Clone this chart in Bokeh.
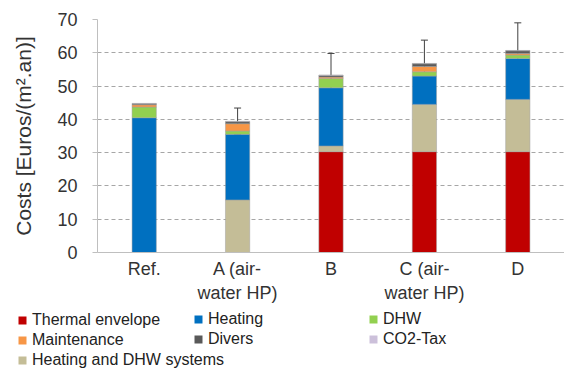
from bokeh.plotting import figure
from bokeh.layouts import column
from bokeh.models import ColumnDataSource, FactorRange, Legend, LegendItem, Whisker, TeeHead, SingleIntervalTicker, Range1d
from bokeh.embed import file_html
from bokeh.resources import INLINE

categories = ["Ref.", "A (air-\nwater HP)", "B", "C (air-\nwater HP)", "D"]
thermal_envelope = [0.0, 0.0, 30.3, 30.3, 30.3]
hdhw_systems = [0.0, 15.8, 1.7, 14.2, 15.7]
heating = [40.5, 19.7, 17.5, 8.5, 12.3]
dhw = [3.2, 1.0, 2.8, 1.3, 1.0]
maintenance = [0.7, 2.2, 0.4, 1.6, 0.5]
divers = [0.3, 0.6, 0.5, 0.8, 0.8]
co2_tax = [0.1, 0.1, 0.1, 0.1, 0.1]

err_categories = ["A (air-\nwater HP)", "B", "C (air-\nwater HP)", "D"]
err_half = [4.0, 6.5, 7.0, 8.3]

labels = ["Thermal envelope", "Heating and DHW systems", "Heating", "DHW", "Maintenance", "Divers", "CO2-Tax"]
colors = ["#C00000", "#C4BD97", "#0070C0", "#92D050", "#F79646", "#595959", "#CCC0DA"]

keys = ["te", "sys", "heat", "dhw", "maint", "div", "co2"]
data = dict(cats=categories, te=thermal_envelope, sys=hdhw_systems, heat=heating,
            dhw=dhw, maint=maintenance, div=divers, co2=co2_tax)
src = ColumnDataSource(data)

totals = [sum(v) for v in zip(thermal_envelope, hdhw_systems, heating, dhw, maintenance, divers, co2_tax)]
tot_map = dict(zip(categories, totals))
err_src = ColumnDataSource(dict(
    cats=err_categories,
    upper=[tot_map[c] + e for c, e in zip(err_categories, err_half)],
    lower=[tot_map[c] - e for c, e in zip(err_categories, err_half)],
))

p = figure(x_range=FactorRange(*categories, range_padding=0), y_range=Range1d(0, 70),
           width=564, height=305, output_backend="svg", toolbar_location=None,
           min_border_left=97, min_border_right=0, min_border_top=19, min_border_bottom=52)
p.frame_align = False

renderers = p.vbar_stack(keys, x="cats", width=0.26, source=src, color=colors,
                         line_color="#a0a0a0", line_width=0.5)

w = Whisker(base="cats", upper="upper", lower="lower", source=err_src,
            line_color="#404040", line_width=1,
            upper_head=TeeHead(size=7, line_color="#404040", line_width=1),
            lower_head=TeeHead(size=7, line_color="#404040", line_width=1))
p.add_layout(w)

p.outline_line_color = None
p.xgrid.grid_line_color = None
p.ygrid.grid_line_color = "#a6a6a6"
p.ygrid.grid_line_dash = "4 3"
p.ygrid.grid_line_width = 1

p.yaxis.ticker = SingleIntervalTicker(interval=10)
p.yaxis.axis_label = "Costs [Euros/(m².an)]"
p.yaxis.axis_label_text_font = "Liberation Sans"
p.yaxis.axis_label_text_font_style = "normal"
p.yaxis.axis_label_text_font_size = "21px"
p.yaxis.axis_label_text_color = "#333333"
p.yaxis.axis_label_standoff = 19
p.yaxis.major_label_text_font = "Liberation Sans"
p.yaxis.major_label_text_font_size = "18px"
p.yaxis.major_label_text_color = "#333333"
p.yaxis.axis_line_color = "#bfbfbf"
p.yaxis.major_tick_line_color = "#bfbfbf"
p.yaxis.major_tick_out = 5
p.yaxis.major_tick_in = 0
p.yaxis.minor_tick_line_color = None
p.yaxis.major_label_standoff = 15

p.xaxis.axis_line_color = "#bfbfbf"
p.xaxis.major_tick_line_color = None
p.xaxis.minor_tick_line_color = None
p.xaxis.major_label_text_font = "Liberation Sans"
p.xaxis.major_label_text_font_size = "18px"
p.xaxis.major_label_text_color = "#333333"
p.xaxis.major_label_standoff = 0
p.xaxis.major_label_orientation = "horizontal"

# Legend panel (separate figure below the chart); its renderers are hidden, only legend glyphs show
lp = figure(width=564, height=64, output_backend="svg", toolbar_location=None,
            x_range=FactorRange(*categories), y_range=Range1d(0, 70),
            x_axis_type=None, y_axis_type=None,
            min_border_left=0, min_border_right=0, min_border_top=0, min_border_bottom=0)
lp.frame_align = False
lp.xgrid.visible = False
lp.ygrid.visible = False
lp.outline_line_color = None
lp_renderers = lp.vbar_stack(keys, x="cats", width=0.25, source=src, color=colors, line_color=None)
for r in lp_renderers:
    r.visible = False
legend_renderers = dict(zip(labels, lp_renderers))

leg_style = dict(glyph_width=10, glyph_height=10, label_standoff=5,
                 label_height=16, spacing=2, padding=0, margin=0,
                 border_line_color=None, background_fill_alpha=0,
                 inactive_fill_alpha=0,
                 label_text_font="Liberation Sans", label_text_font_size="16px",
                 label_text_color="#222222", orientation="vertical")
columns = [
    (["Thermal envelope", "Maintenance", "Heating and DHW systems"], 17, 0),
    (["Heating", "Divers"], 193, 21),
    (["DHW", "CO2-Tax"], 368, 21),
]
for names, lx, ly in columns:
    leg = Legend(items=[LegendItem(label=n, renderers=[legend_renderers[n]]) for n in names],
                 location=(lx, ly), **leg_style)
    lp.add_layout(leg, "center")

layout = column(p, lp, spacing=0)
open("out.html", "w").write(file_html(layout, INLINE))
